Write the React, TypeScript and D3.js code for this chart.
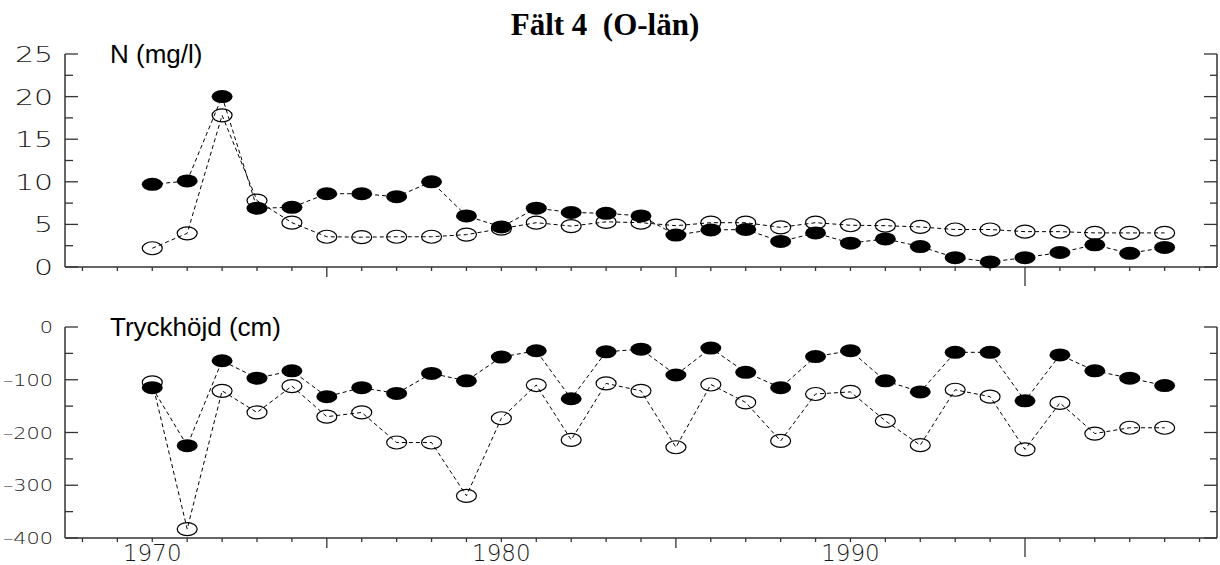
import { scaleLinear, line } from 'd3';

// Fält 4 (O-län): two stacked panels, N concentration and pressure head
const years = [
  1970, 1971, 1972, 1973, 1974, 1975, 1976, 1977, 1978, 1979,
  1980, 1981, 1982, 1983, 1984, 1985, 1986, 1987, 1988, 1989,
  1990, 1991, 1992, 1993, 1994, 1995, 1996, 1997, 1998, 1999,
];

// N (mg/l) - filled markers
const nFilled = [
  9.7, 10.1, 20.0, 6.9, 7.0, 8.6, 8.6, 8.25, 10.0, 6.0,
  4.7, 6.9, 6.4, 6.3, 6.0, 3.75, 4.35, 4.4, 3.0, 4.0,
  2.8, 3.3, 2.4, 1.1, 0.6, 1.1, 1.7, 2.6, 1.6, 2.3,
];
// N (mg/l) - open markers
const nOpen = [
  2.2, 3.95, 17.8, 7.8, 5.2, 3.55, 3.5, 3.55, 3.55, 3.8,
  4.5, 5.2, 4.8, 5.3, 5.2, 4.85, 5.2, 5.2, 4.65, 5.2,
  4.9, 4.85, 4.7, 4.4, 4.4, 4.15, 4.15, 4.0, 4.0, 4.0,
];

// Tryckhöjd (cm) - filled markers
const pFilled = [
  -115, -225, -64, -97, -83, -132, -115, -126, -88, -102,
  -57, -45, -136, -47, -42, -91, -40, -86, -115, -56,
  -45, -102, -123, -48, -48, -140, -53, -83, -97, -111,
];
// Tryckhöjd (cm) - open markers
const pOpen = [
  -105, -383, -121, -162, -112, -170, -162, -219, -219, -320,
  -173, -110, -214, -107, -121, -228, -109, -143, -216, -127,
  -123, -178, -224, -119, -132, -232, -144, -202, -191, -191,
];

const nTicks = [0, 5, 10, 15, 20, 25];
const nMinor = [2.5, 7.5, 12.5, 17.5, 22.5];
const pTicks = [0, -100, -200, -300, -400];
const pMinor = [-50, -150, -250, -350];
const xTicks = [
  1968, 1969, 1970, 1971, 1972, 1973, 1974, 1975, 1976, 1977, 1978,
  1979, 1980, 1981, 1982, 1983, 1984, 1985, 1986, 1987, 1988, 1989,
  1990, 1991, 1992, 1993, 1994, 1995, 1996, 1997, 1998, 1999, 2000,
];
const xLong = [1975, 1985];
const xLonger = [1995];
const xLabels = [1970, 1980, 1990];

const W = 1220;
const H = 565;
const left = 65;
const right = 1217;

const x = scaleLinear().domain([1967.5, 2000.5]).range([left, right]);
const yTop = scaleLinear().domain([0, 25]).range([267, 54]);
const yBot = scaleLinear().domain([-400, 0]).range([538, 327]);

const AXIS = '#333';
const plotter = { fontFamily: 'DejaVu Sans', fontWeight: 200, fill: '#1a1a1a' };

const Panel = ({ y, major, minor, filled, open, label, fs, sx, dy }) => {
  const [y0, y1] = y.range();
  const mk = line()
    .x((d) => x(d[0]))
    .y((d) => y(d[1]));
  const openPts = years.map((yr, i) => [yr, open[i]]);
  const filledPts = years.map((yr, i) => [yr, filled[i]]);
  return (
    <g>
      {/* axes */}
      <line x1={left} x2={left} y1={y1} y2={y0} stroke={AXIS} strokeWidth={1.5} />
      <line x1={right} x2={right} y1={y1} y2={y0} stroke={AXIS} strokeWidth={1.5} />
      <line x1={left} x2={right} y1={y0} y2={y0} stroke={AXIS} strokeWidth={1.5} />
      {major.map((v) => (
        <g key={'M' + v}>
          <line x1={left} x2={left + 13} y1={y(v)} y2={y(v)} stroke={AXIS} strokeWidth={1.3} />
          <line x1={right - 13} x2={right} y1={y(v)} y2={y(v)} stroke={AXIS} strokeWidth={1.3} />
          <text
            transform={`translate(53,${y(v) + dy}) scale(${sx},1)`}
            textAnchor="end"
            style={{ ...plotter, fontSize: fs }}
          >
            {String(v).replace('-', '\u2013')}
          </text>
        </g>
      ))}
      {minor.map((v) => (
        <g key={'m' + v}>
          <line x1={left} x2={left + 8} y1={y(v)} y2={y(v)} stroke={AXIS} strokeWidth={1.3} />
          <line x1={right - 7} x2={right} y1={y(v)} y2={y(v)} stroke={AXIS} strokeWidth={1.3} />
        </g>
      ))}
      {xTicks.map((t) => {
        const len = xLonger.includes(t) ? 19 : xLong.includes(t) ? 10 : 4;
        return (
          <line
            key={'x' + t}
            x1={x(t)}
            x2={x(t)}
            y1={y0}
            y2={y0 + len}
            stroke={AXIS}
            strokeWidth={1.3}
          />
        );
      })}
      <text x={110} y={y1 + 9} style={{ fontFamily: 'Liberation Sans', fontSize: 26 }}>
        {label}
      </text>
      {/* series */}
      <path d={mk(openPts)} fill="none" stroke="#000" strokeWidth={1} strokeDasharray="4,3" />
      <path d={mk(filledPts)} fill="none" stroke="#000" strokeWidth={1} strokeDasharray="4,3" />
      {openPts.map((d) => (
        <ellipse key={'o' + d[0]} cx={x(d[0])} cy={y(d[1])} rx={10} ry={6.5} fill="none" stroke="#000" strokeWidth={1.2} />
      ))}
      {filledPts.map((d) => (
        <ellipse key={'f' + d[0]} cx={x(d[0])} cy={y(d[1])} rx={10.5} ry={6.5} fill="#000" />
      ))}
    </g>
  );
};

export default function App() {
  return (
    <svg
      width={W}
      height={H}
      style={{ position: 'absolute', left: 0, top: 0, background: '#fff' }}
    >
      <text
        x={605}
        y={35}
        textAnchor="middle"
        style={{ fontFamily: 'Liberation Serif', fontWeight: 'bold', fontSize: 31, whiteSpace: 'pre' }}
      >
        {'Fält 4  (O-län)'}
      </text>
      <Panel y={yTop} major={nTicks} minor={nMinor} filled={nFilled} open={nOpen} label="N (mg/l)" fs={22} sx={1.36} dy={8} />
      <Panel y={yBot} major={pTicks} minor={pMinor} filled={pFilled} open={pOpen} label="Tryckhöjd (cm)" fs={16} sx={1.3} dy={6} />
      {xLabels.map((t) => (
        <text
          key={'l' + t}
          x={x(t)}
          y={561}
          textAnchor="middle"
          style={{ ...plotter, fontSize: 23 }}
        >
          {t}
        </text>
      ))}
    </svg>
  );
}
